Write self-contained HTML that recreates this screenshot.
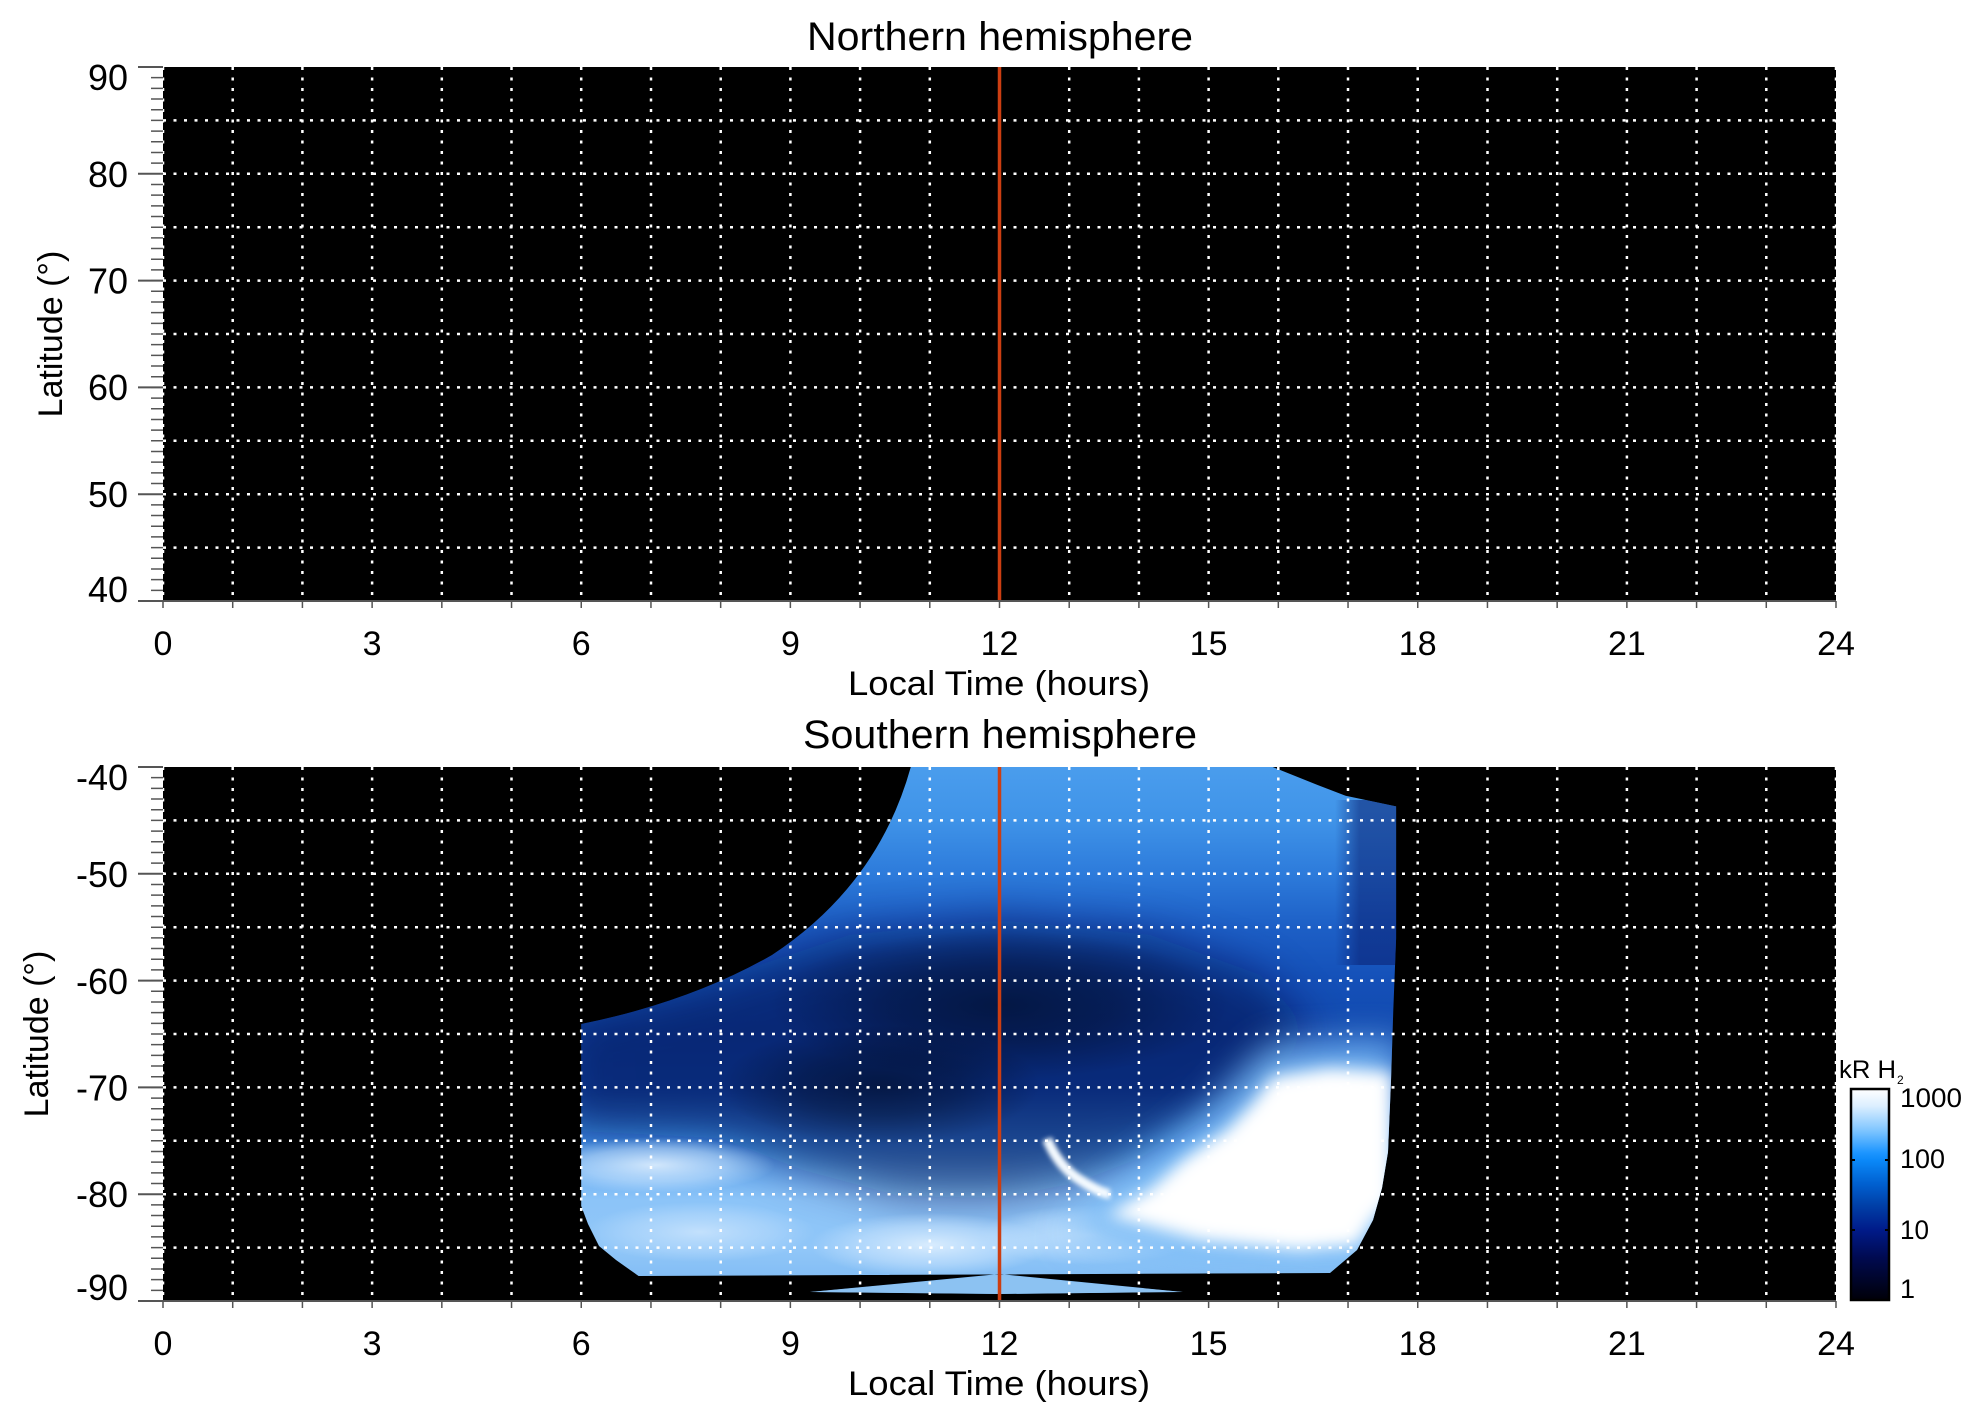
<!DOCTYPE html>
<html><head><meta charset="utf-8"><style>
html,body{margin:0;padding:0;background:#fff;}
svg{display:block;}
text{font-family:"Liberation Sans",Arial,sans-serif;fill:#000;}
</style></head><body>
<svg width="1983" height="1423" viewBox="0 0 1983 1423" xmlns="http://www.w3.org/2000/svg">
<defs>
  <clipPath id="dc">
    <path d="M910.8 767 Q878 885 772 955 Q690 1002 581.2 1024 L581.2 1206 L588 1224 L599 1246 L616 1260 L638.6 1276 L1330 1273 L1357 1250 L1373 1220 L1382 1188 L1388 1152 L1391 1081 L1393.3 1010 L1396.1 938.6 L1396.1 806.4 L1345.6 795.7 L1317.6 785 L1272.7 767 Z M809.7 1292 L999.5 1274 L1183 1292 L999.5 1294 Z"/>
  </clipPath>
  <linearGradient id="base" x1="0" y1="767" x2="0" y2="1301" gradientUnits="userSpaceOnUse">
    <stop offset="0" stop-color="#4a9ded"/>
    <stop offset="0.1" stop-color="#3f93e8"/>
    <stop offset="0.2" stop-color="#2d7bdb"/>
    <stop offset="0.3" stop-color="#1d5fc6"/>
    <stop offset="0.4" stop-color="#1450b8"/>
    <stop offset="0.5" stop-color="#1249ae"/>
    <stop offset="0.6" stop-color="#1550b8"/>
    <stop offset="0.7" stop-color="#3d8de6"/>
    <stop offset="0.755" stop-color="#6aaef2"/>
    <stop offset="0.81" stop-color="#8cc4f8"/>
    <stop offset="0.905" stop-color="#90c6f8"/>
    <stop offset="1" stop-color="#78b6f1"/>
  </linearGradient>
  <radialGradient id="dk">
    <stop offset="0" stop-color="#000510" stop-opacity="0.5"/>
    <stop offset="0.5" stop-color="#000510" stop-opacity="0.32"/>
    <stop offset="1" stop-color="#000510" stop-opacity="0"/>
  </radialGradient>
  <radialGradient id="lt">
    <stop offset="0" stop-color="#e6f3ff" stop-opacity="0.85"/>
    <stop offset="0.6" stop-color="#d0e8ff" stop-opacity="0.5"/>
    <stop offset="1" stop-color="#d0e8ff" stop-opacity="0"/>
  </radialGradient>
  <linearGradient id="strip" x1="1335" y1="0" x2="1396" y2="0" gradientUnits="userSpaceOnUse">
    <stop offset="0" stop-color="#081e70" stop-opacity="0"/>
    <stop offset="0.4" stop-color="#081e70" stop-opacity="0.55"/>
    <stop offset="1" stop-color="#081e70" stop-opacity="0.55"/>
  </linearGradient>
  <filter id="b8" x="-30%" y="-30%" width="160%" height="160%"><feGaussianBlur stdDeviation="8"/></filter>
  <filter id="b18" x="-40%" y="-40%" width="180%" height="180%"><feGaussianBlur stdDeviation="18"/></filter>
  <filter id="b25" x="-40%" y="-40%" width="180%" height="180%"><feGaussianBlur stdDeviation="22"/></filter>
  <filter id="b3" x="-30%" y="-30%" width="160%" height="160%"><feGaussianBlur stdDeviation="2.5"/></filter>
  <linearGradient id="cb" x1="0" y1="0" x2="0" y2="1">
    <stop offset="0" stop-color="#ffffff"/>
    <stop offset="0.08" stop-color="#dcefff"/>
    <stop offset="0.2" stop-color="#7cc4ff"/>
    <stop offset="0.3" stop-color="#1e96ff"/>
    <stop offset="0.34" stop-color="#0a88f8"/>
    <stop offset="0.45" stop-color="#0060d0"/>
    <stop offset="0.55" stop-color="#0040a8"/>
    <stop offset="0.67" stop-color="#001a88"/>
    <stop offset="0.8" stop-color="#000a50"/>
    <stop offset="1" stop-color="#000008"/>
  </linearGradient>
</defs>

<!-- ===== Titles ===== -->
<text x="807" y="50" font-size="40" textLength="386" lengthAdjust="spacingAndGlyphs">Northern hemisphere</text>
<text x="803" y="748" font-size="40" textLength="394" lengthAdjust="spacingAndGlyphs">Southern hemisphere</text>

<!-- ===== North plot ===== -->
<rect x="163" y="67" width="1673" height="534" fill="#000"/>
<path d="M163 67V601M232.7 67V601M302.4 67V601M372.1 67V601M441.8 67V601M511.5 67V601M581.2 67V601M651 67V601M720.7 67V601M790.4 67V601M860.1 67V601M929.8 67V601M1069.2 67V601M1138.9 67V601M1208.6 67V601M1278.3 67V601M1348 67V601M1417.7 67V601M1487.5 67V601M1557.2 67V601M1626.9 67V601M1696.6 67V601M1766.3 67V601M1836 67V601" stroke="#fff" stroke-width="2.5" stroke-dasharray="3 7.5" fill="none"/>
<path d="M163 120.4H1836M163 173.8H1836M163 227.2H1836M163 280.6H1836M163 334H1836M163 387.4H1836M163 440.8H1836M163 494.2H1836M163 547.6H1836" stroke="#fff" stroke-width="2.5" stroke-dasharray="3 7.5" fill="none"/>
<line x1="999.5" y1="67" x2="999.5" y2="601" stroke="#cc3e12" stroke-width="3.5"/>
<!-- axes north -->
<line x1="157" y1="66.25" x2="157" y2="602" stroke="#555" stroke-width="12" stroke-dasharray="1.5 9.18"/>
<path d="M138 67H163M138 173.8H163M138 280.6H163M138 387.4H163M138 494.2H163M138 601H1836" stroke="#555" stroke-width="2" fill="none"/>
<line x1="162.25" y1="604.5" x2="1840" y2="604.5" stroke="#555" stroke-width="7" stroke-dasharray="1.5 68.208"/>
<g font-size="36" text-anchor="end">
  <text x="128" y="90">90</text>
  <text x="128" y="187">80</text>
  <text x="128" y="293.5">70</text>
  <text x="128" y="400">60</text>
  <text x="128" y="507">50</text>
  <text x="128" y="602">40</text>
</g>
<g font-size="34" text-anchor="middle">
  <text x="163" y="655">0</text>
  <text x="372.1" y="655">3</text>
  <text x="581.2" y="655">6</text>
  <text x="790.4" y="655">9</text>
  <text x="999.5" y="655">12</text>
  <text x="1208.6" y="655">15</text>
  <text x="1417.7" y="655">18</text>
  <text x="1626.9" y="655">21</text>
  <text x="1836" y="655">24</text>
</g>
<text x="848" y="695" font-size="34" textLength="302" lengthAdjust="spacingAndGlyphs">Local Time (hours)</text>
<text transform="translate(62,334) rotate(-90)" font-size="34" text-anchor="middle">Latitude (°)</text>

<!-- ===== South plot ===== -->
<rect x="163" y="767" width="1673" height="534" fill="#000"/>
<g clip-path="url(#dc)">
  <rect x="570" y="760" width="840" height="545" fill="url(#base)"/>
  <rect x="1335" y="800" width="62" height="165" fill="url(#strip)"/>
  <polygon points="560,1020 700,985 850,935 1000,920 1150,935 1260,975 1310,1030 1275,1075 1207,1118 1140,1158 1075,1183 997,1198 900,1196 803,1170 720,1138 560,1130" fill="#03104a" opacity="0.55" filter="url(#b25)"/>
  <ellipse cx="1000" cy="1005" rx="230" ry="75" fill="url(#dk)"/>
  <ellipse cx="880" cy="1085" rx="160" ry="60" fill="url(#dk)"/>
  <ellipse cx="655" cy="1165" rx="120" ry="28" fill="url(#lt)"/>
  <ellipse cx="930" cy="1245" rx="120" ry="32" fill="url(#lt)"/>
  <ellipse cx="700" cy="1232" rx="115" ry="30" fill="url(#lt)" opacity="0.7"/>
  <ellipse cx="1090" cy="1235" rx="110" ry="30" fill="url(#lt)" opacity="0.8"/>
  <polygon points="1270,1045 1400,1040 1400,1265 1200,1262 1060,1240 1100,1200 1160,1150 1210,1110 1240,1075" fill="#7cbcf6" filter="url(#b18)" opacity="0.9"/>
  <polygon points="1273,1077 1330,1068 1392,1072 1392,1200 1373,1220 1357,1245 1300,1250 1200,1240 1107,1215 1150,1190 1183,1160 1227,1130 1253,1103" fill="#ffffff" filter="url(#b8)"/>
  <path d="M1047 1139 Q1058 1166 1080 1180 T1110 1194" stroke="#f4faff" stroke-width="10" fill="none" filter="url(#b3)"/>
  <polygon points="809.7,1292 999.5,1275 1183,1292 999.5,1294" fill="#8cc2f2"/>
</g>
<path d="M163 767V1301M232.7 767V1301M302.4 767V1301M372.1 767V1301M441.8 767V1301M511.5 767V1301M581.2 767V1301M651 767V1301M720.7 767V1301M790.4 767V1301M860.1 767V1301M929.8 767V1301M1069.2 767V1301M1138.9 767V1301M1208.6 767V1301M1278.3 767V1301M1348 767V1301M1417.7 767V1301M1487.5 767V1301M1557.2 767V1301M1626.9 767V1301M1696.6 767V1301M1766.3 767V1301M1836 767V1301" stroke="#fff" stroke-width="2.5" stroke-dasharray="3 7.5" fill="none"/>
<path d="M163 820.4H1836M163 873.8H1836M163 927.2H1836M163 980.6H1836M163 1034H1836M163 1087.4H1836M163 1140.8H1836M163 1194.2H1836M163 1247.6H1836" stroke="#fff" stroke-width="2.5" stroke-dasharray="3 7.5" fill="none"/>
<line x1="999.5" y1="767" x2="999.5" y2="1301" stroke="#cc3e12" stroke-width="3.5"/>
<!-- axes south -->
<line x1="157" y1="766.25" x2="157" y2="1302" stroke="#555" stroke-width="12" stroke-dasharray="1.5 9.18"/>
<path d="M138 767H163M138 873.8H163M138 980.6H163M138 1087.4H163M138 1194.2H163M138 1301H1836" stroke="#555" stroke-width="2" fill="none"/>
<line x1="162.25" y1="1304.5" x2="1840" y2="1304.5" stroke="#555" stroke-width="7" stroke-dasharray="1.5 68.208"/>
<g font-size="36" text-anchor="end">
  <text x="128" y="790">-40</text>
  <text x="128" y="887">-50</text>
  <text x="128" y="994">-60</text>
  <text x="128" y="1100.5">-70</text>
  <text x="128" y="1207">-80</text>
  <text x="128" y="1300">-90</text>
</g>
<g font-size="34" text-anchor="middle">
  <text x="163" y="1355">0</text>
  <text x="372.1" y="1355">3</text>
  <text x="581.2" y="1355">6</text>
  <text x="790.4" y="1355">9</text>
  <text x="999.5" y="1355">12</text>
  <text x="1208.6" y="1355">15</text>
  <text x="1417.7" y="1355">18</text>
  <text x="1626.9" y="1355">21</text>
  <text x="1836" y="1355">24</text>
</g>
<text x="848" y="1395" font-size="34" textLength="302" lengthAdjust="spacingAndGlyphs">Local Time (hours)</text>
<text transform="translate(48,1034) rotate(-90)" font-size="34" text-anchor="middle">Latitude (°)</text>

<!-- ===== Colorbar ===== -->
<rect x="1851" y="1089" width="38" height="211" fill="url(#cb)" stroke="#000" stroke-width="2.5"/>
<path d="M1851 1160H1855M1885 1160H1889M1851 1230H1855M1885 1230H1889" stroke="#000" stroke-width="2"/>
<g font-size="27">
  <text x="1900" y="1107" textLength="62" lengthAdjust="spacingAndGlyphs">1000</text>
  <text x="1900" y="1168" textLength="45" lengthAdjust="spacingAndGlyphs">100</text>
  <text x="1900" y="1239" textLength="29" lengthAdjust="spacingAndGlyphs">10</text>
  <text x="1900" y="1298">1</text>
</g>
<text x="1839" y="1078" font-size="25" textLength="57" lengthAdjust="spacingAndGlyphs">kR H</text>
<text x="1897" y="1084" font-size="12">2</text>
</svg>
</body></html>
